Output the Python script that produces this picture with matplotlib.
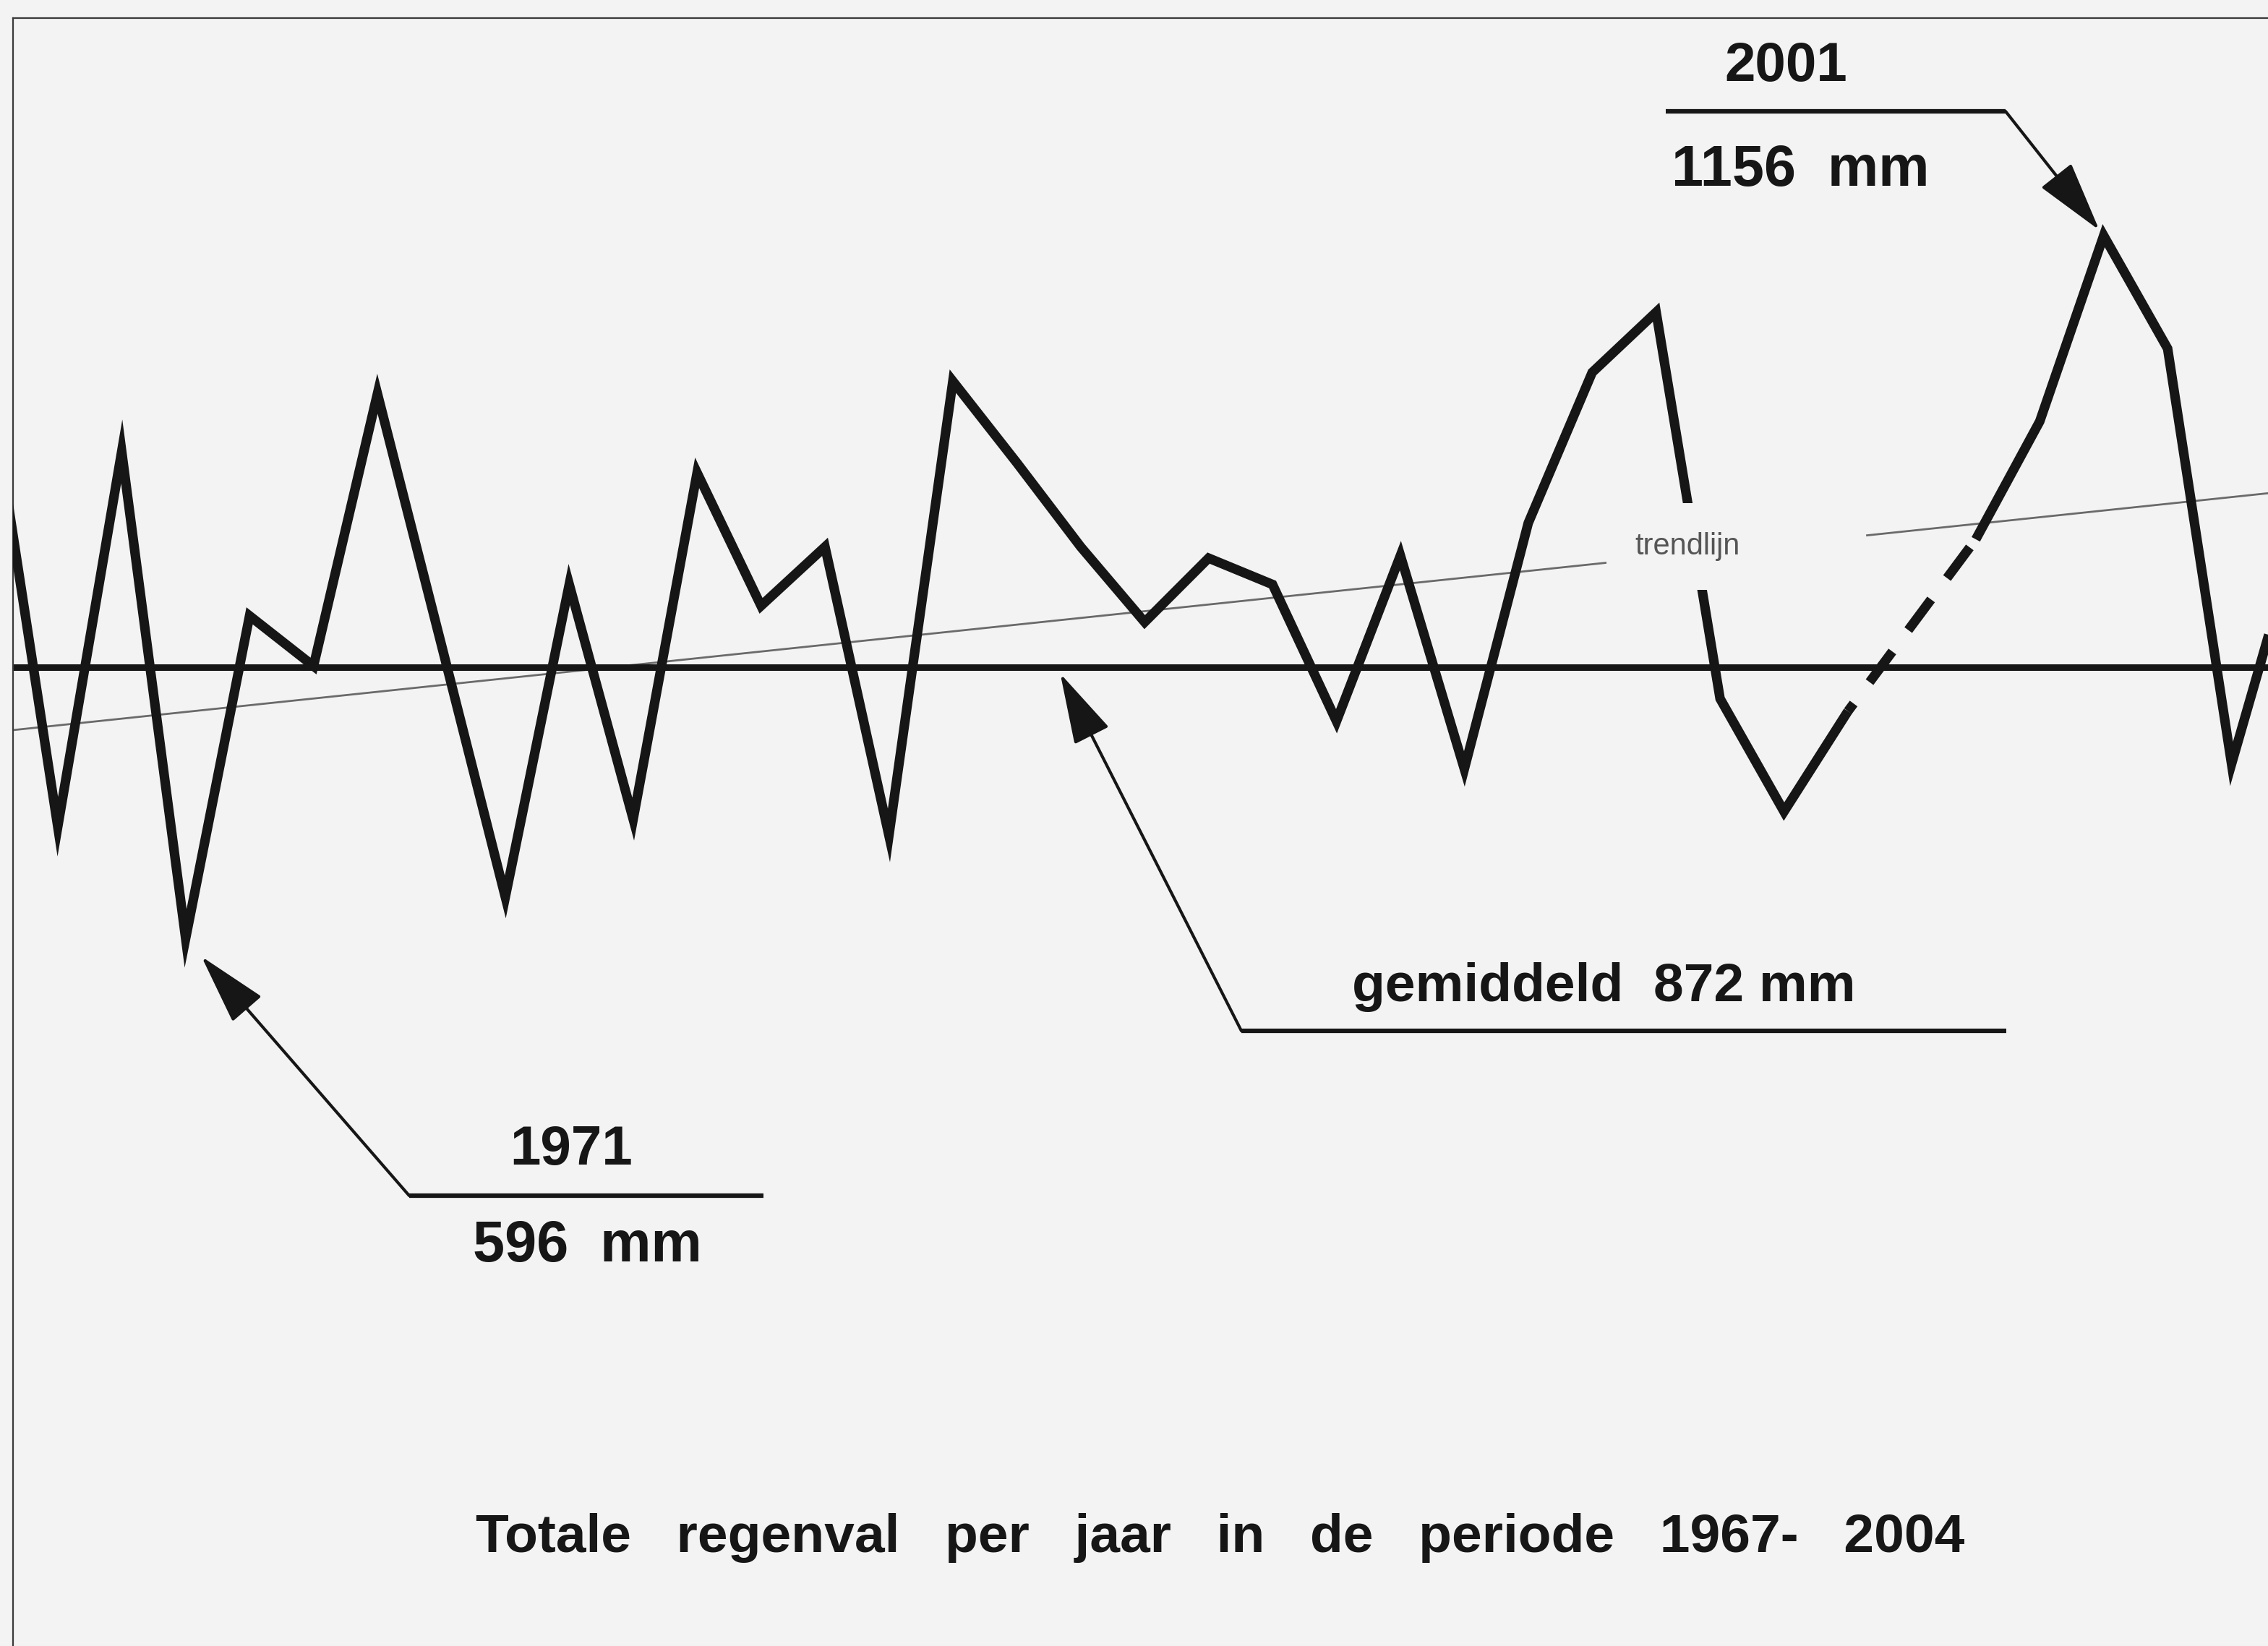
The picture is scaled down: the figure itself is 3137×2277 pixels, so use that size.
import numpy as np
import matplotlib
matplotlib.use("Agg")
import matplotlib.pyplot as plt
from matplotlib.lines import Line2D

# yearly rainfall (mm); 1998 is bridged with a dashed line
years = np.arange(1967, 2005)
rain_mm = np.array([800, 1017, 685, 984, 596, 853, 813, 1030, 830, 629,
                    878, 691, 967, 861, 908, 678, 1040, 975, 908, 848,
                    899, 878, 769, 901, 731, 927, 1047, 1095, 787, 697,
                    777, np.nan, 914, 1008, 1156, 1066, 735, 912])

mean_line_mm = 812          # level where the "gemiddeld" line is drawn
trend_years = [1967, 2004]
trend_mm = [755, 953]

title = "Totale   regenval   per   jaar   in   de   periode   1967-   2004"

W, H = 3137, 2277
BG = "#f3f3f3"
INK = "#161616"


def fig_xy(x, y):
    # full-size pixel position -> figure fraction
    return x / W, 1 - y / H


fig = plt.figure(figsize=(W / 100, H / 100), dpi=100, facecolor=BG)

ax = fig.add_axes([18 / W, 0, 1 - 18 / W, 1 - 25 / H])
ax.patch.set_alpha(0)
ax.set_xlim(1968.30, 2003.57)
ax.set_ylim(32, 1329.4)
ax.set_xticks([])
ax.set_yticks([])
for side in ["right", "bottom"]:
    ax.spines[side].set_visible(False)
for side in ["left", "top"]:
    ax.spines[side].set_linewidth(1.6)
    ax.spines[side].set_color("#3a3a3a")

# trend line, interrupted where its label sits
left_part = np.array([1967, 1993.5])
right_part = np.array([1997.3, 2004])
for part in (left_part, right_part):
    ax.plot(part, np.interp(part, trend_years, trend_mm), color="#6a6a6a", lw=2, zorder=2)

ax.axhline(mean_line_mm, color=INK, lw=6.5, zorder=2)

ax.plot(years, rain_mm, color=INK, lw=9.5, solid_joinstyle="miter",
        solid_capstyle="butt", zorder=3)
gap = np.where(np.isnan(rain_mm))[0][0]
ax.plot(years[[gap - 1, gap + 1]], rain_mm[[gap - 1, gap + 1]], color=INK, lw=9.5,
        linestyle=(3.0, (4.0, 2.8)), dash_capstyle="butt", zorder=3)

fx, fy = fig_xy(2334, 756)
fig.text(fx, fy, "trendlijn", fontsize=30, family="Liberation Sans", color="#555555",
         ha="center", va="center", zorder=5,
         bbox=dict(boxstyle="square,pad=0.95", fc=BG, ec="none"))

bold = dict(family="Liberation Sans", weight="bold", color=INK, zorder=6)
arrow = dict(arrowstyle="-|>,head_length=0.62,head_width=0.17", mutation_scale=100,
             color=INK, lw=3, shrinkA=0)


def bracket(x0, x1, y):
    fx0, fy0 = fig_xy(x0, y)
    fx1, _ = fig_xy(x1, y)
    fig.add_artist(Line2D([fx0, fx1], [fy0, fy0], color=INK, lw=4.5, zorder=6,
                          solid_capstyle="butt"))


# 2001 maximum
i2001 = list(years).index(2001)
bracket(2304, 2774, 154)
ax.annotate("", xy=(2001, rain_mm[i2001]), xycoords="data",
            xytext=fig_xy(2774, 154), textcoords="figure fraction",
            arrowprops=dict(arrow, shrinkB=7), zorder=6)
fig.text(*fig_xy(2470, 112), "2001", fontsize=55, ha="center", va="baseline", **bold)
fig.text(*fig_xy(2312, 257), "1156  mm", fontsize=57, ha="left", va="baseline", **bold)

# 1971 minimum
i1971 = list(years).index(1971)
bracket(566, 1056, 1654)
ax.annotate("", xy=(1971, rain_mm[i1971]), xycoords="data",
            xytext=fig_xy(566, 1654), textcoords="figure fraction",
            arrowprops=dict(arrow, shrinkB=24), zorder=6)
fig.text(*fig_xy(790, 1611), "1971", fontsize=55, ha="center", va="baseline", **bold)
fig.text(*fig_xy(654, 1745), "596  mm", fontsize=57, ha="left", va="baseline", **bold)

# average line
bracket(1717, 2775, 1426)
ax.annotate("", xy=(1984.63, mean_line_mm), xycoords="data",
            xytext=fig_xy(1717, 1426), textcoords="figure fraction",
            arrowprops=dict(arrow, shrinkB=7), zorder=6)
fig.text(*fig_xy(1870, 1385), "gemiddeld  872 mm", fontsize=54, ha="left",
         va="baseline", **bold)

fig.text(*fig_xy(1688, 2147), title, fontsize=54, ha="center", va="baseline", **bold)

fig.savefig("out.png", dpi=100, facecolor=BG)
